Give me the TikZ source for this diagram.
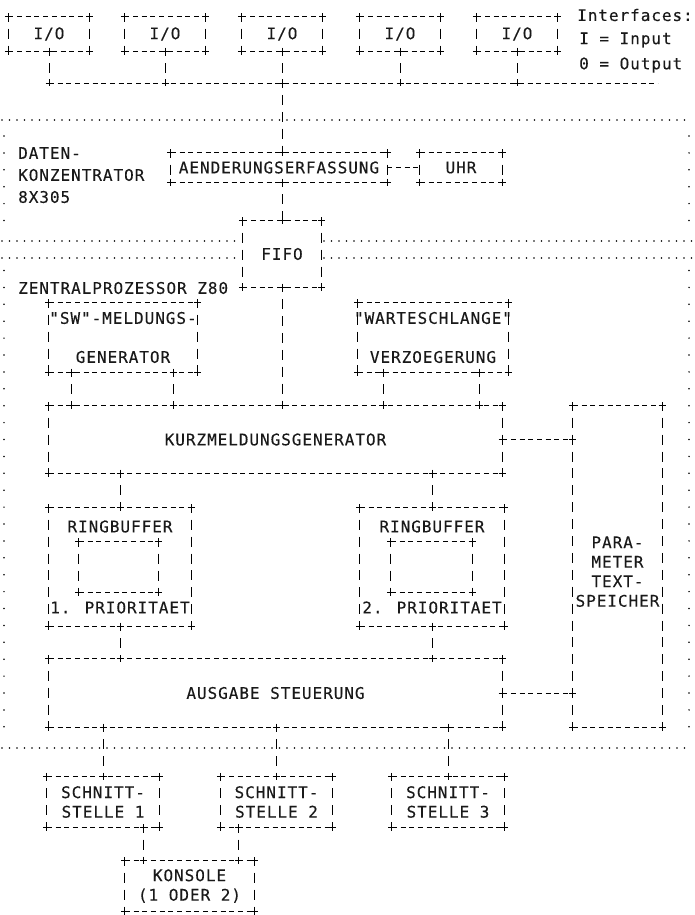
\documentclass[tikz,border=0pt]{standalone}
\usepackage{fontspec}
\newfontfamily\prt[LetterSpace=6, FakeBold=0.2]{DejaVu Sans Mono}

\tikzset{
    plus/.pic={\draw[solid, line width=0.9pt] (-3.5,0) -- (3.5,0) (0,-3.5) -- (0,3.5);},
    hline/.style={line width=0.9pt, dash pattern=on 5pt off 3.7pt},
    vline/.style={line width=1pt, dash pattern=on 10pt off 6.9pt, dash phase=5pt},
    dots/.style={line width=1.7pt, line cap=round, dash pattern=on 0pt off 7.5pt},
    sidedots/.style={line width=1.7pt, line cap=round, dash pattern=on 0pt off 16.9pt},
    box/.style={rectangle, align=center},
}

\begin{document}
\begin{tikzpicture}[x=1pt, y=-1pt,
    every node/.style={font=\prt\fontsize{16}{19.5}\selectfont, text=black!90, inner sep=0pt},
    iobox/.style={box, minimum width=81pt, minimum height=34pt},
    sbox/.style={box, minimum width=112pt, minimum height=51pt}]
    \useasboundingbox (0,0) rectangle (694,915);

    % frames
    \draw[dots] (2,120) -- (692,120);
    \draw[dots] (2,241) -- (240,241) (324,241) -- (692,241);
    \draw[dots] (2,258) -- (240,258) (324,258) -- (692,258);
    \draw[dots] (2,748) -- (692,748);
    \draw[sidedots] (4,136) -- (4,221) (689,136) -- (689,221);
    \draw[sidedots] (4,270.5) -- (4,728) (689,270.5) -- (689,728);

    % interfaces
    \node[iobox] (io1) at (49,34) {I/O};
    \node[iobox] (io2) at (165,34) {I/O};
    \node[iobox] (io3) at (282,34) {I/O};
    \node[iobox] (io4) at (400,34) {I/O};
    \node[iobox] (io5) at (517,34) {I/O};
    \node[anchor=west] (intf) at (577,15) {Interfaces:};
    \node[anchor=west] (inp) at (579,40) {I = Input};
    \node[anchor=west] (outp) at (579,65) {0 = Output};
    \coordinate (busend) at (658,83);
    \draw[hline] (io1.south |- busend) -- (busend);
    \foreach \n in {io1,io2,io3,io4,io5}
        \draw[vline] (\n.south) -- (\n.south |- busend) pic{plus} (\n.south) pic{plus};

    % datenkonzentrator
    \node[anchor=west] (daten) at (18,153) {DATEN-};
    \node[anchor=west] (konz) at (18,175) {KONZENTRATOR};
    \node[anchor=west] (typ) at (18,197) {8X305};
    \node[box, minimum width=216pt, minimum height=29pt] (aend) at (279,167.5) {AENDERUNGSERFASSUNG};
    \node[box, minimum width=82pt, minimum height=29pt] (uhr) at (461,167.5) {UHR};
    \node[box, minimum width=79pt, minimum height=66pt] (fifo) at (282,254) {FIFO};
    \draw[vline] (io3.south |- busend) -- (io3.south |- aend.north) pic{plus};
    \draw[hline] (aend.east) -- (uhr.west);
    \draw[vline] (fifo.north |- aend.south) -- (fifo.north) pic{plus} (fifo.north |- aend.south) pic{plus};

    % zentralprozessor
    \node[anchor=west] (zp) at (18,288) {ZENTRALPROZESSOR Z80};
    \node[box, minimum width=148pt, minimum height=69pt] (sw) at (123,337.5)
        {\makebox[0pt]{"SW"-MELDUNGS-}\\[19.5pt]GENERATOR};
    \node[box, minimum width=150pt, minimum height=69pt] (wart) at (433,337.5)
        {\makebox[0pt]{"WARTESCHLANGE"}\\[19.5pt]VERZOEGERUNG};
    \node[box, minimum width=453pt, minimum height=67pt] (kurz) at (275.5,439.5) {KURZMELDUNGSGENERATOR};
    \node[box, minimum width=89pt, minimum height=321pt] (param) at (617.5,566.5)
        {\rule{0pt}{22pt}PARA-\\METER\\TEXT-\\\makebox[0pt]{SPEICHER}};
    \node[box, minimum width=142pt, minimum height=118pt] (rb1) at (120,567)
        {RINGBUFFER\\[61.5pt]\makebox[0pt]{1. PRIORITAET}};
    \node[box, minimum width=144pt, minimum height=118pt] (rb2) at (432,567)
        {RINGBUFFER\\[61.5pt]\makebox[0pt]{2. PRIORITAET}};
    \node[box, minimum width=79pt, minimum height=50pt] (in1) at (118.5,567) {};
    \node[box, minimum width=81pt, minimum height=50pt] (in2) at (431.5,567) {};
    \node[box, minimum width=453pt, minimum height=68pt] (ausg) at (275.5,693) {AUSGABE STEUERUNG};

    \draw[vline] (fifo.south) -- (fifo.south |- kurz.north) pic{plus} (fifo.south) pic{plus};
    \foreach \src/\dl/\dr in {sw/23/24, wart/26/29} {
        \draw[vline] ([xshift=\dl]\src.south west) coordinate (p) -- (p |- kurz.north) pic{plus} (p) pic{plus};
        \draw[vline] ([xshift=-\dr]\src.south east) coordinate (p) -- (p |- kurz.north) pic{plus} (p) pic{plus};
    }
    \draw[hline] (kurz.east) -- (kurz.east -| param.west) pic{plus} (kurz.east) pic{plus};
    \draw[hline] (ausg.east) -- (ausg.east -| param.west) pic{plus} (ausg.east) pic{plus};
    \foreach \n in {rb1,rb2} {
        \draw[vline] (\n.north |- kurz.south) -- (\n.north) pic{plus} (\n.north |- kurz.south) pic{plus};
        \draw[vline] (\n.south) -- (\n.south |- ausg.north) pic{plus} (\n.south) pic{plus};
    }

    % schnittstellen
    \node[sbox] (s1) at (103,802) {SCHNITT-\\STELLE 1};
    \node[sbox] (s2) at (276.5,802) {SCHNITT-\\STELLE 2};
    \node[sbox] (s3) at (448,802) {SCHNITT-\\STELLE 3};
    \node[box, minimum width=129pt, minimum height=50pt] (kons) at (189.5,886) {KONSOLE\\(1 ODER 2)};
    \foreach \n in {s1,s2,s3}
        \draw[vline] (\n.north |- ausg.south) -- (\n.north) pic{plus} (\n.north |- ausg.south) pic{plus};
    \draw[vline] ([xshift=-16]s1.south east) coordinate (p) -- (p |- kons.north) pic{plus} (p) pic{plus};
    \draw[vline] ([xshift=18]s2.south west) coordinate (p) -- (p |- kons.north) pic{plus} (p) pic{plus};

    % box outlines
    \foreach \b in {io1,io2,io3,io4,io5,aend,uhr,fifo,sw,wart,kurz,param,rb1,rb2,in1,in2,ausg,s1,s2,s3,kons} {
        \draw[hline] (\b.north west) -- (\b.north east) (\b.south west) -- (\b.south east);
        \draw[vline] (\b.north west) -- (\b.south west) (\b.north east) -- (\b.south east);
        \path (\b.north west) pic{plus} (\b.north east) pic{plus} (\b.south west) pic{plus} (\b.south east) pic{plus};
    }
\end{tikzpicture}
\end{document}
